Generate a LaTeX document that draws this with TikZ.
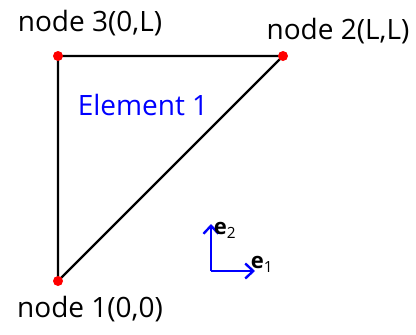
\documentclass[tikz,border=0pt]{standalone}
\usepackage{fontspec}
\setmainfont{Open Sans}
\usetikzlibrary{arrows.meta}
\begin{document}
\begin{tikzpicture}[x=1pt,y=-1pt,
  edge/.style={draw=black,line width=2.2pt},
  dot/.style={circle,fill=red,inner sep=0pt,minimum size=10pt},
  lbl/.style={font=\fontsize{28}{32}\selectfont,inner sep=0pt},
  axis/.style={draw=blue,line width=2.4pt,-{Straight Barb[length=8pt,width=15pt,line width=2.4pt]}},
  axlbl/.style={font=\fontsize{22}{26}\selectfont\bfseries,inner sep=0pt}]
\useasboundingbox (0,0) rectangle (416,335);
\coordinate (n1) at (58,281);
\coordinate (n2) at (283,56);
\coordinate (n3) at (58,56);
\draw[edge] (n1) -- (n3) -- (n2) -- cycle;
\node[dot] (d1) at (n1) {};
\node[dot] (d2) at (n2) {};
\node[dot] (d3) at (n3) {};
\node[lbl] (l3) at (90,23) {node 3(0,L)};
\node[lbl] (l2) at (338,31) {node 2(L,L)};
\node[lbl] (l1) at (90,309) {node 1(0,0)};
\node[lbl,text=blue] (el) at (143,105) {Element 1};
\coordinate (o) at (211,271);
\coordinate (e2) at (211,224);
\coordinate (e1) at (255,271);
\draw[axis] (o) -- (e2);
\draw[axis] (o) -- (e1);
\node[axlbl] (t2) at (225,230) {e\textsubscript{\mdseries 2}};
\node[axlbl] (t1) at (262,264) {e\textsubscript{\mdseries 1}};
\end{tikzpicture}
\end{document}
